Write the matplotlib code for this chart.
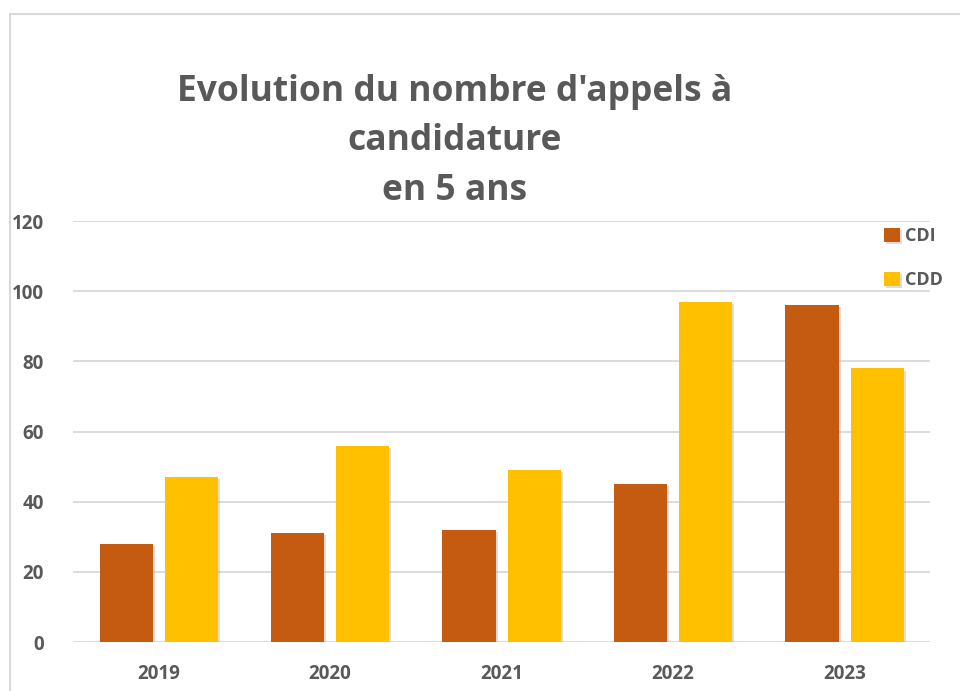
import matplotlib
matplotlib.use('agg')
import matplotlib.pyplot as plt
import matplotlib.patheffects as pe
from matplotlib.patches import Rectangle
import numpy as np

years = ["2019", "2020", "2021", "2022", "2023"]
cdi = [28, 31, 32, 45, 96]
cdd = [47, 56, 49, 97, 78]

grey = "#595959"
plt.rcParams['font.family'] = ['Open Sans', 'DejaVu Sans']
plt.rcParams['font.weight'] = 'bold'

fig = plt.figure(figsize=(9.6, 6.91), dpi=100)
ax = fig.add_axes([0.076, 0.0709, 0.893, 0.609])

# chart frame (cut on the right and bottom)
fig.patches.append(Rectangle((10/960, -0.1), 1.2, 1 - 14/691 + 0.1, transform=fig.transFigure,
                             fill=False, edgecolor="#D9D9D9", lw=1.5))

x = np.arange(len(years))
w = 0.31
shadow = [pe.SimplePatchShadow(offset=(1.5, -1.5), shadow_rgbFace="#AAAAAA", alpha=0.4), pe.Normal()]
b1 = ax.bar(x - 0.19, cdi, w, color="#C55A11", label="CDI", zorder=3)
b2 = ax.bar(x + 0.19, cdd, w, color="#FFC000", label="CDD", zorder=3)
for b in list(b1) + list(b2):
    b.set_path_effects(shadow)

ax.set_ylim(0, 120)
ax.set_xlim(-0.5, 4.5)
ax.set_yticks(range(0, 121, 20))
ax.set_xticks(x)
ax.set_xticklabels(years)
ax.yaxis.grid(True, color="#D9D9D9", lw=1.3, zorder=0)
ax.set_axisbelow(True)
for s in ax.spines.values():
    s.set_visible(False)
ax.tick_params(length=0, labelsize=13.5, labelcolor=grey)
ax.tick_params(axis='x', pad=16)
ax.tick_params(axis='y', pad=21)
for lab in ax.get_xticklabels() + ax.get_yticklabels():
    lab.set_fontweight('bold')

leg = fig.legend(loc='upper left', bbox_to_anchor=(868/960, 1 - 211/691), frameon=False,
                 handlelength=0.85, handleheight=0.85, handletextpad=0.3, labelspacing=1.45,
                 prop={'size': 13, 'weight': 'bold'})
for t in leg.get_texts():
    t.set_color(grey)

fig.text(455/960, 1 - 141/691, "Evolution du nombre d'appels à\ncandidature\nen 5 ans",
         ha='center', va='center', fontsize=25.5, fontweight='bold', color=grey, linespacing=1.5)

fig.savefig("out.png", dpi=100)
